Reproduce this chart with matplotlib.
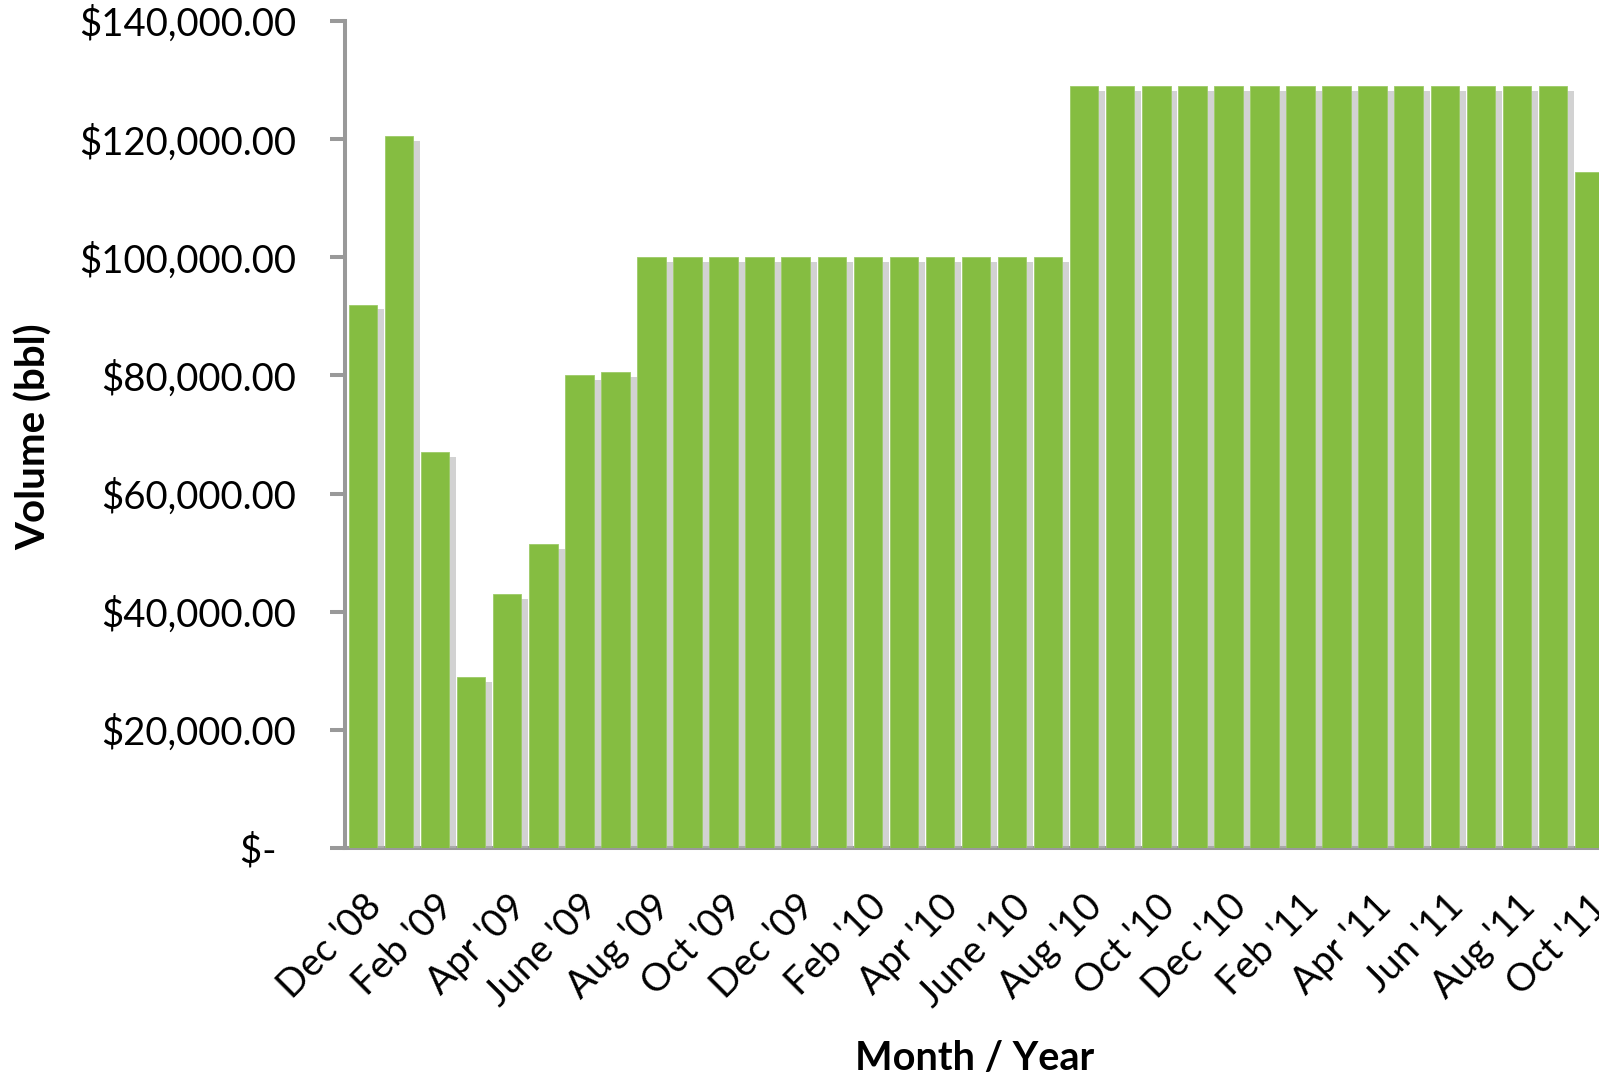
import matplotlib
matplotlib.use("Agg")
import matplotlib.pyplot as plt
import matplotlib.patheffects as pe
import matplotlib.transforms as mtransforms
import numpy as np

months = ["Dec '08", "Jan '09", "Feb '09", "Mar '09", "Apr '09", "May '09", "June '09", "Jul '09",
          "Aug '09", "Sep '09", "Oct '09", "Nov '09", "Dec '09", "Jan '10", "Feb '10", "Mar '10",
          "Apr '10", "May '10", "June '10", "Jul '10", "Aug '10", "Sep '10", "Oct '10", "Nov '10",
          "Dec '10", "Jan '11", "Feb '11", "Mar '11", "Apr '11", "May '11", "Jun '11", "Jul '11",
          "Aug '11", "Sep '11", "Oct '11"]
values = [92000, 120500, 67000, 29000, 43000, 51500, 80000, 80500,
          100000, 100000, 100000, 100000, 100000, 100000, 100000, 100000,
          100000, 100000, 100000, 100000, 129000, 129000, 129000, 129000,
          129000, 129000, 129000, 129000, 129000, 129000, 129000, 129000,
          129000, 129000, 114500]
ytick_values = [0, 20000, 40000, 60000, 80000, 100000, 120000, 140000]
ytick_labels = ["$-  ", "$20,000.00", "$40,000.00", "$60,000.00", "$80,000.00",
                "$100,000.00", "$120,000.00", "$140,000.00"]

plt.rcParams['font.family'] = ['Lato', 'DejaVu Sans']

fig = plt.figure(figsize=(15.99, 10.79), dpi=100)
ax = fig.add_axes([345/1599, 231/1079, (1607-345)/1599, (1058-231)/1079])

x = np.arange(len(values))
bars = ax.bar(x, values, width=0.79, color='#85BD41', edgecolor='#9CCB68', linewidth=0.6, zorder=3)
for b in bars:
    b.set_path_effects([pe.SimplePatchShadow(offset=(5, -3.5), shadow_rgbFace='#b5b5b5', alpha=0.6),
                        pe.Normal()])

ax.set_xlim(-0.5, len(values) - 0.5)
ax.set_ylim(0, 140000)

ax.set_yticks(ytick_values)
ax.set_yticklabels(ytick_labels, fontsize=27.5)
ax.set_xticks(x[::2])
ax.set_xticklabels(months[::2], rotation=45, ha='right', va='top', rotation_mode='anchor', fontsize=27.5)
shift = mtransforms.ScaledTranslation(-6/100, 0, fig.dpi_scale_trans)
for lab in ax.get_xticklabels():
    lab.set_transform(lab.get_transform() + shift)

for s in ['top', 'right']:
    ax.spines[s].set_visible(False)
for s in ['left', 'bottom']:
    ax.spines[s].set_color('#999999')
    ax.spines[s].set_linewidth(2.9)
ax.tick_params(axis='y', length=11, width=2.9, color='#999999', pad=24)
ax.tick_params(axis='x', length=0, pad=29)

ax.set_ylabel('Volume (bbl)', fontsize=29, fontweight='bold', va='center')
ax.yaxis.set_label_coords(-0.2464, 0.4976)
ax.set_xlabel('Month / Year', fontsize=28.5, fontweight='bold', va='center')
ax.xaxis.set_label_coords(0.4992, -0.2545)

fig.savefig('out.png', dpi=100)
